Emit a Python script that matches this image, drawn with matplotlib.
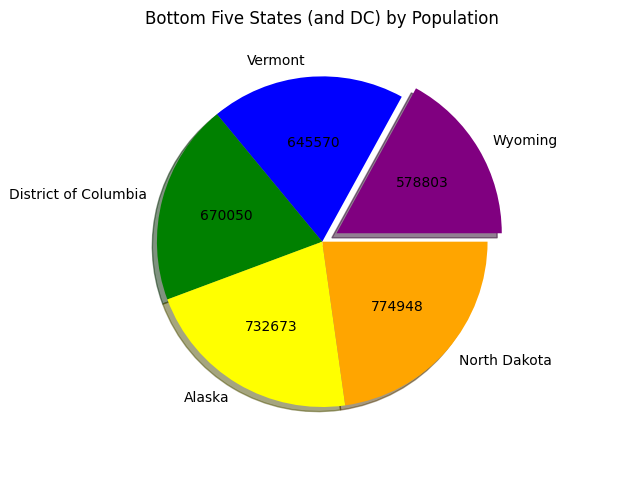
import matplotlib
matplotlib.use("Agg")
import matplotlib.pyplot as plt

states = ["Wyoming", "Vermont", "District of Columbia", "Alaska", "North Dakota"]
population = [578803, 645570, 670050, 732673, 774948]
colors = ["purple", "blue", "green", "yellow", "orange"]
explode = [0.1, 0, 0, 0, 0]

total = sum(population)

def fmt(p):
    return f"{int(round(p * total / 100))}"

fig, ax = plt.subplots(figsize=(6.4, 4.8), dpi=100)
ax.pie(population, labels=states, colors=colors, explode=explode,
       autopct=fmt, shadow=True)
ax.set_title("Bottom Five States (and DC) by Population", pad=8.2)
fig.subplots_adjust(left=0.06, right=0.947, bottom=0.066, top=0.927)
fig.savefig("out.png")
